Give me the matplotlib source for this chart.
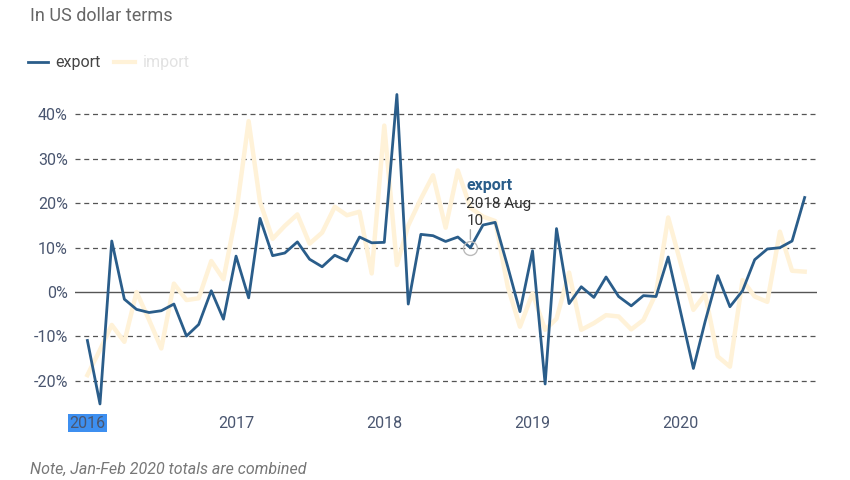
import matplotlib
matplotlib.use("Agg")
import matplotlib.pyplot as plt
import pandas as pd

plt.rcParams['font.family'] = ['Roboto', 'DejaVu Sans']

# Mois de janv. 2016 à nov. 2020 ; janv.-fév. 2020 combinés (pas de point en janv. 2020)
mois = pd.date_range("2016-01-01", "2020-11-01", freq="MS")
mois = mois[mois != pd.Timestamp("2020-01-01")]

export = [-10.9, -25.2, 11.5, -1.6, -3.9, -4.6, -4.2, -2.7, -9.9, -7.3, 0.3, -6.1,
          8.1, -1.3, 16.6, 8.2, 8.8, 11.3, 7.4, 5.7, 8.3, 7.0, 12.4, 11.1,
          11.2, 44.5, -2.7, 13.0, 12.7, 11.4, 12.4, 10.0, 15.1, 15.7, 5.7, -4.4,
          9.3, -20.7, 14.3, -2.6, 1.2, -1.2, 3.4, -1.0, -3.1, -0.8, -1.0, 7.9,
          -17.2, -6.6, 3.7, -3.3, 0.3, 7.3, 9.7, 10.0, 11.5, 21.3]

imports = [-18.7, -13.0, -7.4, -11.2, 0.0, -6.3, -12.7, 1.9, -1.8, -1.4, 7.0, 2.9,
           17.5, 38.5, 20.3, 12.0, 14.9, 17.5, 10.9, 13.4, 19.2, 17.3, 18.1, 4.2,
           37.5, 6.1, 15.0, 21.0, 26.3, 14.5, 27.4, 19.0, 17.0, 16.0, 1.2, -7.8,
           -0.3, -8.5, -6.0, 4.4, -8.5, -7.0, -5.2, -5.5, -8.4, -6.3, -0.3, 16.8,
           -4.0, -0.5, -14.5, -16.8, 2.7, -1.0, -2.2, 13.6, 4.8, 4.6]

yticks = [-20, -10, 0, 10, 20, 30, 40]
annees = ["2016", "2017", "2018", "2019", "2020"]

bleu = "#2a5d8a"
pale = "#fff2d8"

fig = plt.figure(figsize=(8.5, 4.8), dpi=100)
ax = fig.add_axes([0.088, 0.151, 0.873, 0.666])

ax.plot(mois, imports, color=pale, lw=3.2, zorder=2)
ax.plot(mois, export, color=bleu, lw=2.0, zorder=3)

for v in yticks:
    if v == 0:
        ax.axhline(v, color="#555555", lw=1.0, zorder=1)
    else:
        ax.axhline(v, color="#555555", lw=0.9, ls=(0, (4, 3)), zorder=1)

ax.set_ylim(-26, 46)
ax.set_xlim(pd.Timestamp("2015-12-01"), pd.Timestamp("2020-12-01"))
ax.set_yticks(yticks)
ax.set_yticklabels([f"{v}%" for v in yticks])
ax.set_xticks([pd.Timestamp(f"{a}-01-01") for a in annees])
ax.set_xticklabels(annees)
ax.tick_params(length=0, labelsize=11.5, labelcolor="#4a5670")
ax.tick_params(axis="y", pad=5)
ax.tick_params(axis="x", pad=6)
for s in ax.spines.values():
    s.set_visible(False)

# surlignage de "2016"
lab = ax.get_xticklabels()[0]
lab.set_bbox(dict(facecolor="#3d8ff0", edgecolor="none", pad=1.0))

# infobulle sur 2018 Aug
pt = pd.Timestamp("2018-08-01")
val = export[list(mois).index(pt)]
ax.plot([pt], [val], marker="o", ms=10, mfc="none", mec="#bbbbbb", mew=1.0, zorder=4)
ax.annotate("", xy=(pt, val), xytext=(0, 18), textcoords="offset pixels",
            arrowprops=dict(arrowstyle="-", color="#aaaaaa", lw=1, shrinkA=0, shrinkB=6))
ax.annotate("export", xy=(pt, val), xytext=(-4, 62), textcoords="offset pixels",
            color=bleu, fontsize=11.5, fontweight="bold", va="center", ha="left")
ax.annotate("2018 Aug", xy=(pt, val), xytext=(-4, 44), textcoords="offset pixels",
            color="#333333", fontsize=11, va="center", ha="left")
ax.annotate("10", xy=(pt, val), xytext=(-4, 27), textcoords="offset pixels",
            color="#333333", fontsize=11, va="center", ha="left")

# titre, légende, note
fig.text(30 / 850, 1 - 16 / 480, "In US dollar terms", fontsize=13, color="#666666",
         va="center", ha="left")
fig.add_artist(plt.Line2D([28 / 850, 48 / 850], [1 - 62 / 480] * 2, color=bleu, lw=2))
fig.text(55 / 850, 1 - 62 / 480, "export", fontsize=11.5, color="#444444", va="center")
fig.add_artist(plt.Line2D([114 / 850, 135 / 850], [1 - 62 / 480] * 2, color=pale, lw=3))
fig.text(143 / 850, 1 - 62 / 480, "import", fontsize=11.5, color="#e2e2e2", va="center")
fig.text(30 / 850, 1 - 469 / 480, "Note, Jan-Feb 2020 totals are combined", fontsize=11.5,
         color="#777777", style="italic", va="center")

fig.savefig("out.png", dpi=100)
